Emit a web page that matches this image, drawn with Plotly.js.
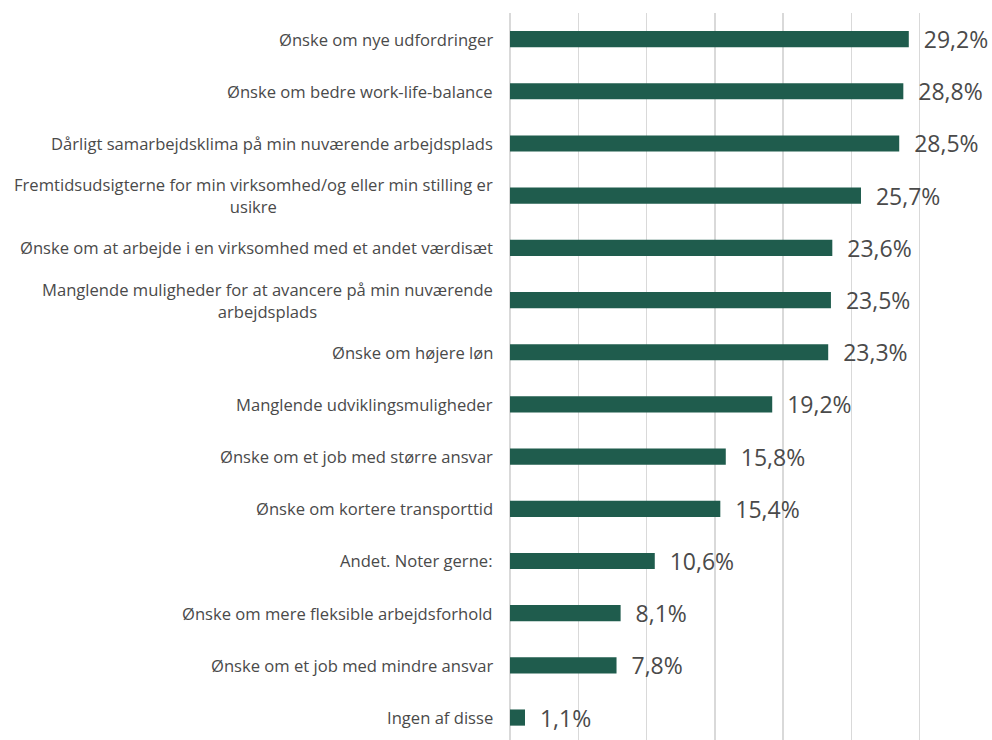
<!DOCTYPE html>
<html><head><meta charset="utf-8">
<script src="https://cdn.plot.ly/plotly-3.0.1.min.js"></script>
<style>html,body{margin:0;padding:0;background:#fff}</style>
</head><body>
<div id="chart" style="width:992px;height:740px"></div>
<script>
const categories = [
  "Ønske om nye udfordringer",
  "Ønske om bedre work-life-balance",
  "Dårligt samarbejdsklima på min nuværende arbejdsplads",
  "Fremtidsudsigterne for min virksomhed/og eller min stilling er<br>usikre",
  "Ønske om at arbejde i en virksomhed med et andet værdisæt",
  "Manglende muligheder for at avancere på min nuværende<br>arbejdsplads",
  "Ønske om højere løn",
  "Manglende udviklingsmuligheder",
  "Ønske om et job med større ansvar",
  "Ønske om kortere transporttid",
  "Andet. Noter gerne:",
  "Ønske om mere fleksible arbejdsforhold",
  "Ønske om et job med mindre ansvar",
  "Ingen af disse"
];
const values = [29.2, 28.8, 28.5, 25.7, 23.6, 23.5, 23.3, 19.2, 15.8, 15.4, 10.6, 8.1, 7.8, 1.1];
const gridTicks = [0, 5, 10, 15, 20, 25, 30, 35];

const idx = categories.map((c, i) => i);
const FONT = "'Open Sans', Lato, sans-serif";

const trace = {
  type: "bar",
  orientation: "h",
  x: values,
  y: idx,
  width: 0.31,
  marker: {color: "#1f5c4d"},
  texttemplate: "  %{x:.1f}%",
  textposition: "outside",
  constraintext: "none",
  cliponaxis: false,
  textfont: {family: FONT, size: 23, color: "#4a4a4a"},
  hoverinfo: "skip"
};

const annotations = categories.map((c, i) => ({
  xref: "paper", yref: "y",
  x: 0, y: i,
  xshift: -15,
  xanchor: "right", yanchor: "middle",
  align: "center",
  showarrow: false,
  text: c,
  font: {family: FONT, size: 16.6, color: "#4a4a4a"}
}));

const layout = {
  width: 992, height: 740,
  margin: {l: 510, r: 4, t: 13, b: 0, pad: 0},
  paper_bgcolor: "#fff", plot_bgcolor: "#fff",
  separators: ",.",
  showlegend: false,
  xaxis: {
    range: [0, 35], tickvals: gridTicks, showticklabels: false,
    showgrid: true, gridcolor: "#d9d9d9", gridwidth: 1.5,
    zeroline: true, zerolinecolor: "#d9d9d9", zerolinewidth: 1.5,
    showline: false, fixedrange: true
  },
  yaxis: {
    range: [13.43, -0.5], showticklabels: false, showgrid: false,
    zeroline: false, showline: false, fixedrange: true
  },
  annotations: annotations
};

Plotly.newPlot("chart", [trace], layout, {displayModeBar: false, staticPlot: true});
</script>
</body></html>
